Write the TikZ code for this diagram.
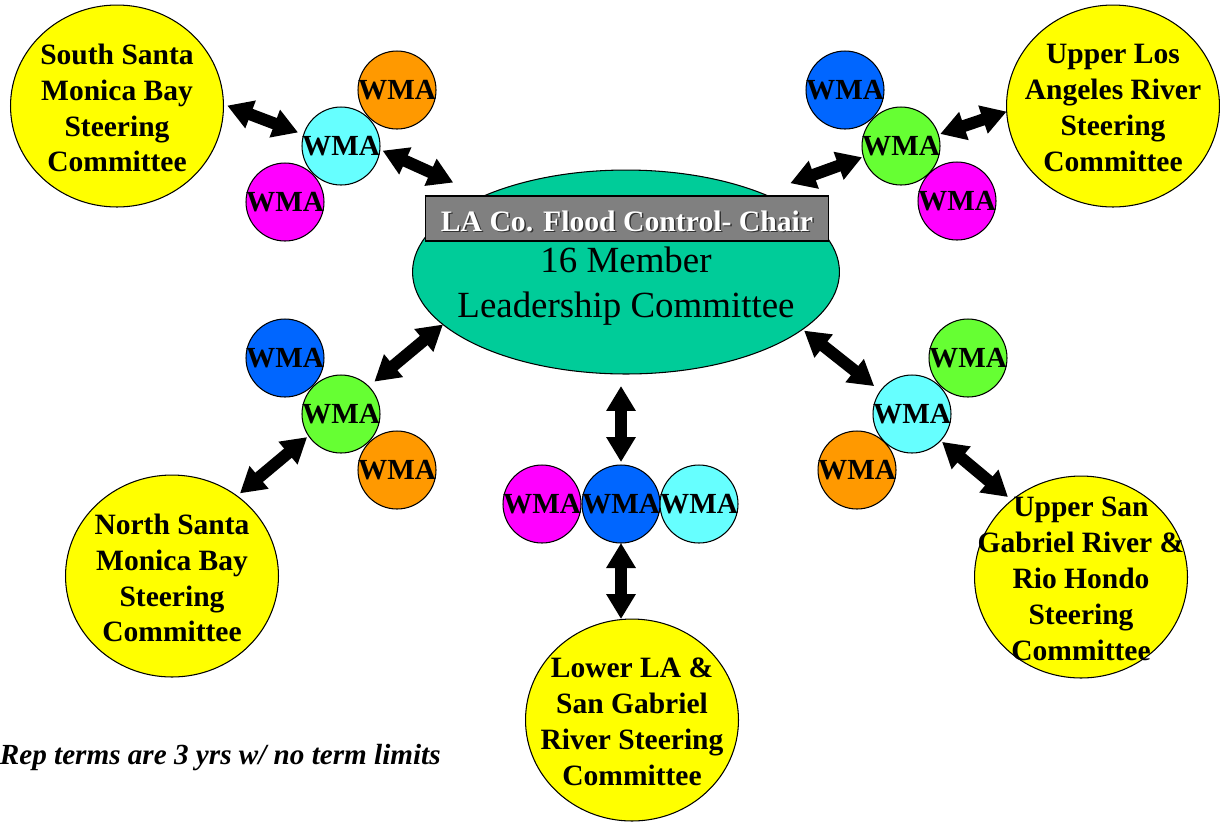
\documentclass[tikz,border=0pt]{standalone}
\usepackage{fontspec}
\setmainfont{Liberation Serif}
\usepackage{xcolor}
\usepackage{tikz}
\usetikzlibrary{arrows.meta}
\usetikzlibrary{shapes.geometric}
\usetikzlibrary{positioning}

\definecolor{cmtyellow}{RGB}{255,255,0}
\definecolor{leadgreen}{RGB}{0,204,153}
\definecolor{wmacyan}{RGB}{102,255,255}
\definecolor{wmaorange}{RGB}{255,153,0}
\definecolor{wmamagenta}{RGB}{255,0,255}
\definecolor{wmablue}{RGB}{0,102,255}
\definecolor{wmagreen}{RGB}{102,255,51}
\definecolor{chairgray}{RGB}{128,128,128}

\newcommand{\wmalbl}{\makebox[0pt]{WMA}}

\begin{document}
\begin{tikzpicture}[x=0.02cm,y=-0.02cm,
	committee/.style={ellipse,draw,line width=0.6pt,fill=cmtyellow,minimum width=4.26cm,minimum height=4.04cm,inner sep=0pt,outer sep=0pt,label={[cmttext]center:#1}},
	cmttext/.style={align=center,inner sep=0pt,yshift=-0.04cm,font=\fontsize{16.8}{20.4}\selectfont\bfseries},
	wma/.style={circle,draw,line width=0.6pt,fill=#1,minimum size=1.56cm,inner sep=0pt,outer sep=0pt,font=\fontsize{16.6}{20}\selectfont\bfseries},
	lead/.style={ellipse,draw,line width=0.6pt,fill=leadgreen,minimum width=8.54cm,minimum height=4.08cm,inner sep=0pt,outer sep=0pt},
	leadtext/.style={align=center,inner sep=0pt,font=\fontsize{21}{25.5}\selectfont},
	chair/.style={rectangle,draw,line width=0.6pt,fill=chairgray,minimum width=8.08cm,minimum height=0.9cm,inner sep=0pt},
	chairtxt/.style={inner sep=0pt,text=white,font=\fontsize{16.9}{20}\selectfont\bfseries},
	chairshd/.style={chairtxt,text=black!80},
	note/.style={inner sep=0pt,font=\fontsize{16.6}{20}\selectfont\bfseries\itshape},
	conn/.style={{Triangle[width=0.56cm,length=0.5cm]}-{Triangle[width=0.56cm,length=0.5cm]},line width=0.24cm}]
	\useasboundingbox (0,0) rectangle (1220,823);
	\node[lead] (lead) at (626,272) {};
	\node[chair] (chair) at (627,218.5) {};
	\node[chairshd] (chairshd) at (628.5,222.5) {LA Co. Flood Control- Chair};
	\node[chairtxt] (chairtxt) at (627,221) {LA Co. Flood Control- Chair};
	\node[leadtext] (ldtxt) at (626,286) {16 Member\\Leadership Committee};
	\node[committee={South Santa\\Monica Bay\\Steering\\Committee}] (ssmb) at (117,106) {};
	\node[committee={Upper Los\\Angeles River\\Steering\\Committee}] (ulr) at (1113,106) {};
	\node[committee={North Santa\\Monica Bay\\Steering\\Committee}] (nsmb) at (172,576) {};
	\node[committee={Upper San\\Gabriel River \&\\Rio Hondo\\Steering\\Committee}] (usg) at (1081,577) {};
	\node[committee={Lower LA \&\\San Gabriel\\River Steering\\Committee}] (lower) at (632,720) {};
	\node[wma=wmacyan] (tl1) at (341,146) {\wmalbl};
	\node[wma=wmaorange] (tl2) at (397,90) {\wmalbl};
	\node[wma=wmamagenta] (tl3) at (285,202) {\wmalbl};
	\node[wma=wmagreen] (tr1) at (901,146) {\wmalbl};
	\node[wma=wmablue] (tr2) at (845,90) {\wmalbl};
	\node[wma=wmamagenta] (tr3) at (957,201) {\wmalbl};
	\node[wma=wmagreen] (ml1) at (341,414) {\wmalbl};
	\node[wma=wmablue] (ml2) at (285,358) {\wmalbl};
	\node[wma=wmaorange] (ml3) at (397,470) {\wmalbl};
	\node[wma=wmacyan] (mr1) at (912,414) {\wmalbl};
	\node[wma=wmagreen] (mr2) at (968,358) {\wmalbl};
	\node[wma=wmaorange] (mr3) at (857,470) {\wmalbl};
	\node[wma=wmamagenta] (b1) at (542,504) {\wmalbl};
	\node[wma=wmablue] (b2) at (621,504) {\wmalbl};
	\node[wma=wmacyan] (b3) at (699,504) {\wmalbl};
	\draw[conn,shorten <=0.08cm,shorten >=0.12cm] (ssmb.1.6) -- (tl1.163);
	\draw[conn,shorten <=0.06cm,shorten >=0.66cm] (tl1.-5) -- (lead.152);
	\draw[conn,shorten <=0.6cm,shorten >=0.03cm] (lead.30) -- (tr1.-164);
	\draw[conn,shorten <=0.04cm] (tr1.17) -- (ulr.183);
	\draw[conn,shorten >=0.15cm] (lead.196) -- (ml1.45);
	\draw[conn,shorten <=0.04cm,shorten >=0.08cm] (ml1.214) -- (nsmb.51);
	\draw[conn,shorten <=0.24cm,shorten >=0.06cm] (b2.north |- lead.south) -- (b2.north);
	\draw[conn] (b2.south) -- (b2.south |- lower.north);
	\draw[conn,shorten <=0.04cm,shorten >=0.16cm] (lead.-18) -- (mr1.144);
	\draw[conn,shorten <=0.04cm,shorten >=0.1cm] (mr1.-43) -- (usg.132);
	\node[note,anchor=base east] (note) at (441,764) {Rep terms are 3 yrs w/ no term limits};
\end{tikzpicture}
\end{document}
